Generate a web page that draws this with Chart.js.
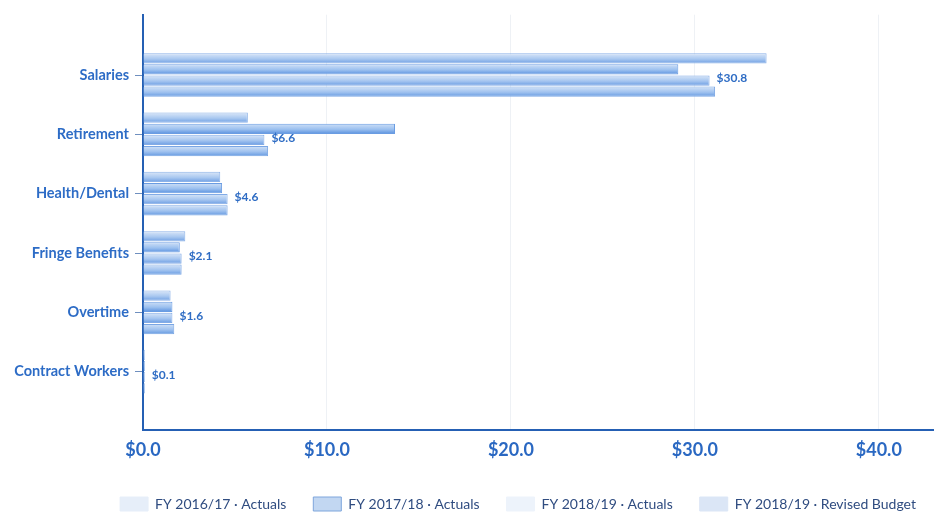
<!DOCTYPE html>
<html>
<head>
<meta charset="utf-8">
<script src="https://cdn.jsdelivr.net/npm/chart.js@4.4.1/dist/chart.umd.min.js"></script>
<style>
  html, body { margin: 0; padding: 0; background: #fff; }
  #wrap { width: 934px; height: 514px; }
</style>
</head>
<body>
<div id="wrap"><canvas id="chart"></canvas></div>
<script>
const categories = ['Salaries', 'Retirement', 'Health/Dental', 'Fringe Benefits', 'Overtime', 'Contract Workers'];
const seriesNames = ['FY 2016/17 - Actuals', 'FY 2017/18 - Actuals', 'FY 2018/19 - Actuals', 'FY 2018/19 - Revised Budget'];
const fy1617Actuals = [33.9, 5.7, 4.2, 2.3, 1.5, 0.1];
const fy1718Actuals = [29.1, 13.7, 4.3, 2.0, 1.6, 0.1];
const fy1819Actuals = [30.8, 6.6, 4.6, 2.1, 1.6, 0.1];
const fy1819Budget = [31.1, 6.8, 4.6, 2.1, 1.7, 0.1];
const xTicks = [0, 10, 20, 30, 40];

// legend text uses a middle dot like the original
const legendNames = seriesNames.map(n => n.replace(' - ', ' \u00b7 '));

const barTop = ['#dbe7f8', '#cfe0f7', '#d8e6f8', '#d3e3f7'];
const barMid = ['#a9c8f0', '#9bc0ef', '#a5c5f0', '#a0c2ef'];
const barBottom = ['#6f9fe3', '#5a91df', '#6a9ce2', '#6499e1'];
const barEdge = ['#8cb2e8', '#6a9ce2', '#82abe6', '#7aa6e4'];
const keyFill = ['#e6eef9', '#c2d7f2', '#edf3fb', '#dbe6f6'];
const keyEdge = ['#e6eef9', '#7fa6dc', '#edf3fb', '#dbe6f6'];

const allSeries = [fy1617Actuals, fy1718Actuals, fy1819Actuals, fy1819Budget];
const catPct = 0.75;
const barPct = 0.92;

function toPoints(values) {
    return values.map((v, i) => ({ x: v, y: i }));
}

// vertical shading for each bar, positioned from the y scale
function barGradient(context) {
    const chart = context.chart;
    const yScale = chart.scales.y;
    const di = context.datasetIndex;
    if (!yScale || context.dataIndex === undefined) return barMid[di];
    const step = Math.abs(yScale.getPixelForValue(1) - yScale.getPixelForValue(0));
    const slot = step * catPct / allSeries.length;
    const centre = yScale.getPixelForValue(context.dataIndex) - step * catPct / 2 + slot * (di + 0.5);
    const half = slot * barPct / 2;
    if (!isFinite(centre)) return barMid[di];
    const g = chart.ctx.createLinearGradient(0, centre - half, 0, centre + half);
    g.addColorStop(0, barTop[di]);
    g.addColorStop(0.55, barMid[di]);
    g.addColorStop(1, barBottom[di]);
    return g;
}

const datasets = allSeries.map((vals, i) => ({
    label: legendNames[i],
    data: toPoints(vals),
    backgroundColor: barGradient,
    borderColor: barEdge[i],
    borderWidth: 1,
    categoryPercentage: catPct,
    barPercentage: barPct
}));

// value labels next to the FY 2018/19 actuals bars
const valueLabels = {
    id: 'valueLabels',
    afterDatasetsDraw(chart) {
        const ctx = chart.ctx;
        const meta = chart.getDatasetMeta(2);
        ctx.save();
        ctx.font = 'bold 12px Lato';
        ctx.fillStyle = '#2e6cc4';
        ctx.textBaseline = 'middle';
        ctx.textAlign = 'left';
        meta.data.forEach((bar, i) => {
            ctx.fillText('$' + fy1819Actuals[i].toFixed(1), bar.x + 7, bar.y - 2);
        });
        ctx.restore();
    }
};

// the legend in the original sits a bit right of centre
const legendShift = {
    id: 'legendShift',
    afterLayout(chart) {
        if (chart.legend) {
            chart.legend.left += 51;
            chart.legend.right += 51;
        }
    }
};

new Chart(document.getElementById('chart'), {
    type: 'bar',
    data: { datasets: datasets },
    options: {
        indexAxis: 'y',
        responsive: true,
        maintainAspectRatio: false,
        animation: false,
        layout: { padding: { left: 0, right: 0, top: 10, bottom: -7 } },
        scales: {
            x: {
                type: 'linear',
                min: 0,
                max: 43,
                afterBuildTicks: scale => {
                    scale.ticks = xTicks.map(v => ({ value: v }));
                },
                afterFit: scale => { scale.height = 40; },
                border: { color: '#2560b4', width: 2 },
                grid: { color: 'rgba(160,175,200,0.18)', drawTicks: false },
                ticks: {
                    padding: 9,
                    color: '#2a68c2',
                    font: { family: 'Lato', size: 18, weight: 'bold' },
                    callback: v => '$' + Number(v).toFixed(1)
                }
            },
            y: {
                type: 'linear',
                reverse: true,
                offset: false,
                min: -1.0167,
                max: 5.9833,
                afterBuildTicks: scale => {
                    scale.ticks = categories.map((c, i) => ({ value: i }));
                },
                afterFit: scale => { scale.width = 143; },
                border: { color: '#2560b4', width: 2 },
                grid: { offset: false, drawOnChartArea: false, tickLength: 8, color: '#6f8fbf' },
                ticks: {
                    padding: 6,
                    color: '#2d6cc6',
                    font: { family: 'Lato', size: 14.5, weight: 'bold' },
                    callback: v => categories[v]
                }
            }
        },
        plugins: {
            tooltip: { enabled: false },
            legend: {
                position: 'bottom',
                labels: {
                    boxWidth: 28,
                    boxHeight: 14,
                    padding: 27,
                    color: '#2f4c80',
                    font: { family: 'Lato', size: 14 },
                    generateLabels: chart => chart.data.datasets.map((ds, i) => ({
                        text: ds.label,
                        fillStyle: keyFill[i],
                        strokeStyle: keyEdge[i],
                        lineWidth: 1,
                        fontColor: '#2f4c80',
                        datasetIndex: i,
                        hidden: false
                    }))
                }
            }
        }
    },
    plugins: [valueLabels, legendShift]
});
</script>
</body>
</html>
